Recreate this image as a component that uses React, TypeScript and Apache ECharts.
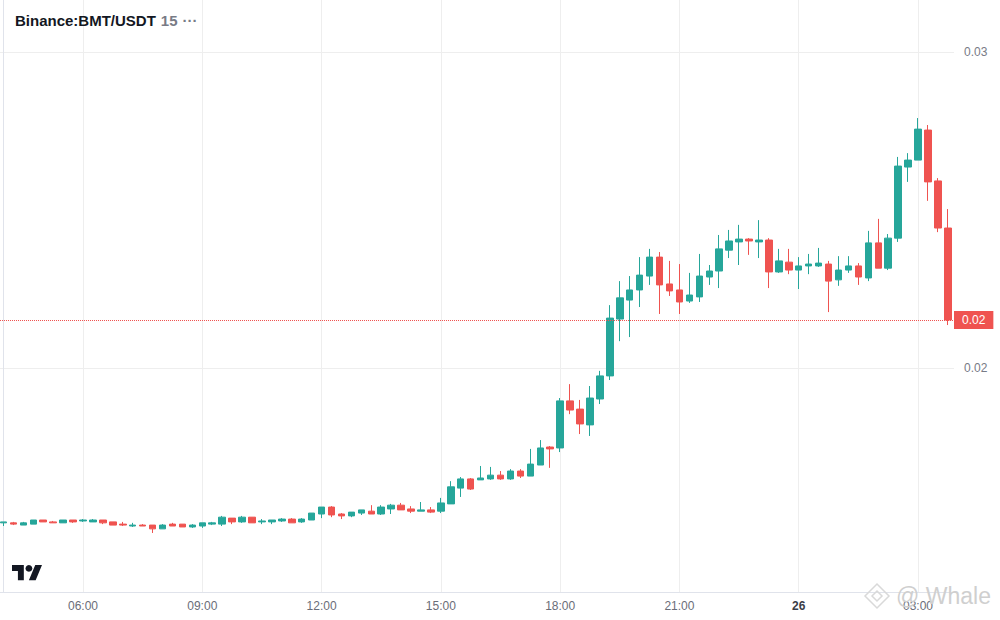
import React, { useEffect, useRef } from 'react';
import * as echarts from 'echarts';

// 15-minute candles, 04:00 (25th) to 03:45 (26th)
const OPEN = [
  0.01510, 0.01510, 0.01503, 0.01506, 0.01519, 0.01513, 0.01510, 0.01519, 0.01516, 0.01513,
  0.01519, 0.01513, 0.01506, 0.01500, 0.01503, 0.01503, 0.01491, 0.01506, 0.01506, 0.01497,
  0.01500, 0.01506, 0.01506, 0.01525, 0.01513, 0.01528, 0.01513, 0.01513, 0.01516, 0.01522,
  0.01513, 0.01519, 0.01538, 0.01560, 0.01538, 0.01532, 0.01541, 0.01547, 0.01538, 0.01554,
  0.01566, 0.01554, 0.01547, 0.01551, 0.01547, 0.01570, 0.01620, 0.01649, 0.01646, 0.01649,
  0.01661, 0.01649, 0.01674, 0.01658, 0.01693, 0.01750, 0.01747, 0.01896, 0.01870, 0.01820,
  0.01902, 0.01975, 0.02155, 0.02215, 0.02247, 0.02291, 0.02351, 0.02266, 0.02247, 0.02212,
  0.02225, 0.02288, 0.02307, 0.02373, 0.02399, 0.02408, 0.02399, 0.02405, 0.02304, 0.02335,
  0.02310, 0.02323, 0.02323, 0.02329, 0.02279, 0.02310, 0.02323, 0.02285, 0.02396, 0.02316,
  0.02411, 0.02636, 0.02658, 0.02753, 0.02592, 0.02443,
];
const CLOSE = [
  0.01513, 0.01506, 0.01510, 0.01519, 0.01513, 0.01510, 0.01519, 0.01513, 0.01519, 0.01519,
  0.01510, 0.01503, 0.01503, 0.01503, 0.01500, 0.01491, 0.01503, 0.01500, 0.01497, 0.01503,
  0.01510, 0.01510, 0.01528, 0.01513, 0.01528, 0.01510, 0.01516, 0.01519, 0.01522, 0.01510,
  0.01522, 0.01541, 0.01560, 0.01535, 0.01532, 0.01544, 0.01551, 0.01538, 0.01560, 0.01566,
  0.01551, 0.01547, 0.01551, 0.01544, 0.01573, 0.01624, 0.01649, 0.01617, 0.01652, 0.01661,
  0.01649, 0.01674, 0.01658, 0.01696, 0.01747, 0.01744, 0.01896, 0.01867, 0.01823, 0.01905,
  0.01975, 0.02158, 0.02222, 0.02247, 0.02294, 0.02351, 0.02263, 0.02244, 0.02209, 0.02231,
  0.02291, 0.02307, 0.02377, 0.02402, 0.02408, 0.02402, 0.02405, 0.02304, 0.02339, 0.02310,
  0.02323, 0.02329, 0.02332, 0.02275, 0.02310, 0.02323, 0.02288, 0.02396, 0.02316, 0.02411,
  0.02639, 0.02658, 0.02756, 0.02589, 0.02443, 0.02152,
];
const LOW = [
  0.01500, 0.01503, 0.01503, 0.01506, 0.01513, 0.01510, 0.01510, 0.01510, 0.01513, 0.01513,
  0.01506, 0.01503, 0.01500, 0.01497, 0.01500, 0.01478, 0.01491, 0.01500, 0.01497, 0.01494,
  0.01494, 0.01503, 0.01500, 0.01506, 0.01510, 0.01510, 0.01506, 0.01506, 0.01513, 0.01510,
  0.01510, 0.01519, 0.01525, 0.01528, 0.01522, 0.01528, 0.01535, 0.01538, 0.01535, 0.01538,
  0.01551, 0.01541, 0.01547, 0.01541, 0.01541, 0.01570, 0.01592, 0.01614, 0.01646, 0.01646,
  0.01646, 0.01646, 0.01652, 0.01658, 0.01693, 0.01684, 0.01734, 0.01854, 0.01791, 0.01785,
  0.01886, 0.01962, 0.02085, 0.02098, 0.02193, 0.02263, 0.02171, 0.02228, 0.02171, 0.02206,
  0.02209, 0.02263, 0.02253, 0.02348, 0.02326, 0.02358, 0.02348, 0.02253, 0.02301, 0.02297,
  0.02250, 0.02297, 0.02320, 0.02177, 0.02260, 0.02301, 0.02263, 0.02275, 0.02316, 0.02310,
  0.02399, 0.02589, 0.02658, 0.02529, 0.02430, 0.02136,
];
const HIGH = [
  0.01513, 0.01513, 0.01513, 0.01519, 0.01519, 0.01516, 0.01519, 0.01519, 0.01522, 0.01522,
  0.01519, 0.01513, 0.01513, 0.01510, 0.01506, 0.01503, 0.01506, 0.01510, 0.01506, 0.01506,
  0.01510, 0.01513, 0.01532, 0.01525, 0.01532, 0.01528, 0.01522, 0.01519, 0.01525, 0.01525,
  0.01525, 0.01541, 0.01560, 0.01563, 0.01541, 0.01544, 0.01551, 0.01566, 0.01566, 0.01570,
  0.01573, 0.01563, 0.01576, 0.01560, 0.01589, 0.01642, 0.01655, 0.01652, 0.01690, 0.01687,
  0.01674, 0.01680, 0.01680, 0.01744, 0.01772, 0.01753, 0.01905, 0.01949, 0.01899, 0.01943,
  0.01991, 0.02199, 0.02275, 0.02291, 0.02351, 0.02377, 0.02367, 0.02339, 0.02329, 0.02301,
  0.02361, 0.02326, 0.02421, 0.02437, 0.02453, 0.02411, 0.02468, 0.02411, 0.02377, 0.02377,
  0.02351, 0.02361, 0.02380, 0.02339, 0.02354, 0.02354, 0.02332, 0.02434, 0.02472, 0.02424,
  0.02668, 0.02680, 0.02791, 0.02769, 0.02601, 0.02503,
];

// x tick positions (candle index) and their labels
const X_TICK_INDEX = [8, 20, 32, 44, 56, 68, 80, 92];
const X_TICK_LABELS = ['06:00', '09:00', '12:00', '15:00', '18:00', '21:00', '26', '03:00'];
const Y_TICKS = [0.02, 0.03];

const SYMBOL = 'Binance:BMT/USDT';
const INTERVAL = '15';
const WATERMARK = '@ Whale';

const UP = '#26a69a';
const DOWN = '#ef5350';
const FONT = '"Liberation Sans", Arial, sans-serif';

echarts.graphic.registerShape(
  'tvlogo',
  echarts.graphic.extendPath('M14 22H7V11H0V4h14v18zM28 22h-8l7.5-18h8L28 22z', {})
);

export default function App() {
  const ref = useRef<HTMLDivElement>(null);

  useEffect(() => {
    const chart = echarts.init(ref.current!, null, { renderer: 'svg' });
    const rows = OPEN.map((o, i) => [i, o, CLOSE[i], LOW[i], HIGH[i]]);
    const last = CLOSE[CLOSE.length - 1];

    chart.setOption({
      animation: false,
      backgroundColor: '#ffffff',
      textStyle: { fontFamily: FONT },
      title: {
        left: 15,
        top: 11,
        padding: 0,
        text: `{a|${SYMBOL}} {b|${INTERVAL}} {c|···}`,
        textStyle: {
          rich: {
            a: { fontSize: 15, fontWeight: 'bold', color: '#131722', fontFamily: FONT },
            b: { fontSize: 15, color: '#787b86', fontFamily: FONT },
            c: { fontSize: 15, color: '#787b86', fontFamily: FONT },
          },
        },
      },
      grid: { left: 0, top: 0, right: 46, bottom: 28 },
      xAxis: {
        type: 'value',
        min: -0.35,
        max: 95.62,
        axisLine: { show: true, lineStyle: { color: '#e0e3eb' } },
        axisTick: { show: false, customValues: X_TICK_INDEX },
        splitLine: { show: true, lineStyle: { color: '#eeeeee', width: 1 } },
        axisLabel: {
          customValues: X_TICK_INDEX,
          color: '#6a6d78',
          fontSize: 12,
          margin: 8,
          fontFamily: FONT,
          formatter: (v: number) => {
            const k = X_TICK_INDEX.indexOf(Math.round(v));
            const s = k >= 0 ? X_TICK_LABELS[k] : '';
            return s.indexOf(':') < 0 && s ? `{d|${s}}` : s;
          },
          rich: {
            d: { fontWeight: 'bold', color: '#3a3d46', fontSize: 12, fontFamily: FONT },
          },
        },
      },
      yAxis: {
        type: 'value',
        position: 'right',
        min: 0.012912,
        max: 0.031646,
        scale: true,
        axisLine: { show: true, lineStyle: { color: '#e0e3eb' } },
        axisTick: { show: false, customValues: Y_TICKS },
        splitLine: { show: true, lineStyle: { color: '#eeeeee', width: 1 } },
        axisLabel: {
          customValues: Y_TICKS,
          color: '#787b86',
          fontSize: 12,
          margin: 10,
          fontFamily: FONT,
          formatter: (v: number) => v.toFixed(2),
        },
      },
      graphic: [
        {
          type: 'tvlogo',
          x: 12,
          y: 561.6,
          scaleX: 0.845,
          scaleY: 0.845,
          style: { fill: '#131722' },
          z: 100,
        },
        {
          type: 'circle',
          shape: { cx: 28.9, cy: 568.4, r: 3.4 },
          style: { fill: '#131722' },
          z: 100,
        },
        {
          type: 'polygon',
          shape: { points: [[877, 584], [889, 596], [877, 608], [865, 596]] },
          style: { fill: 'none', stroke: '#d9d9d9', lineWidth: 1.5 },
          z: 100,
        },
        {
          type: 'polygon',
          shape: { points: [[877, 591], [882, 596], [877, 601], [872, 596]] },
          style: { fill: 'none', stroke: '#d9d9d9', lineWidth: 1.5 },
          z: 100,
        },
        {
          type: 'text',
          x: 896,
          y: 596,
          style: {
            text: WATERMARK,
            fill: '#cfcfcf',
            font: `23px ${FONT}`,
            textVerticalAlign: 'middle',
            verticalAlign: 'middle',
          },
          z: 100,
        },
      ],
      series: [
        {
          type: 'candlestick',
          data: rows,
          encode: { x: 0, y: [1, 2, 3, 4] },
          barWidth: 7,
          itemStyle: {
            color: UP,
            color0: DOWN,
            borderColor: UP,
            borderColor0: DOWN,
            borderWidth: 1,
          },
          markLine: {
            silent: true,
            precision: 6,
            symbol: ['none', 'none'],
            data: [{ yAxis: last }],
            lineStyle: { color: DOWN, type: 'dotted', width: 1 },
            label: {
              show: true,
              position: 'end',
              distance: 0,
              formatter: (p: any) => Number(p.value).toFixed(2),
              backgroundColor: DOWN,
              color: '#ffffff',
              fontSize: 12,
              fontFamily: FONT,
              padding: [3, 8, 3, 8],
            },
          },
        },
      ],
    });

    return () => chart.dispose();
  }, []);

  return (
    <div
      ref={ref}
      style={{ position: 'fixed', left: 0, top: 0, width: 1000, height: 620, background: '#fff' }}
    />
  );
}
